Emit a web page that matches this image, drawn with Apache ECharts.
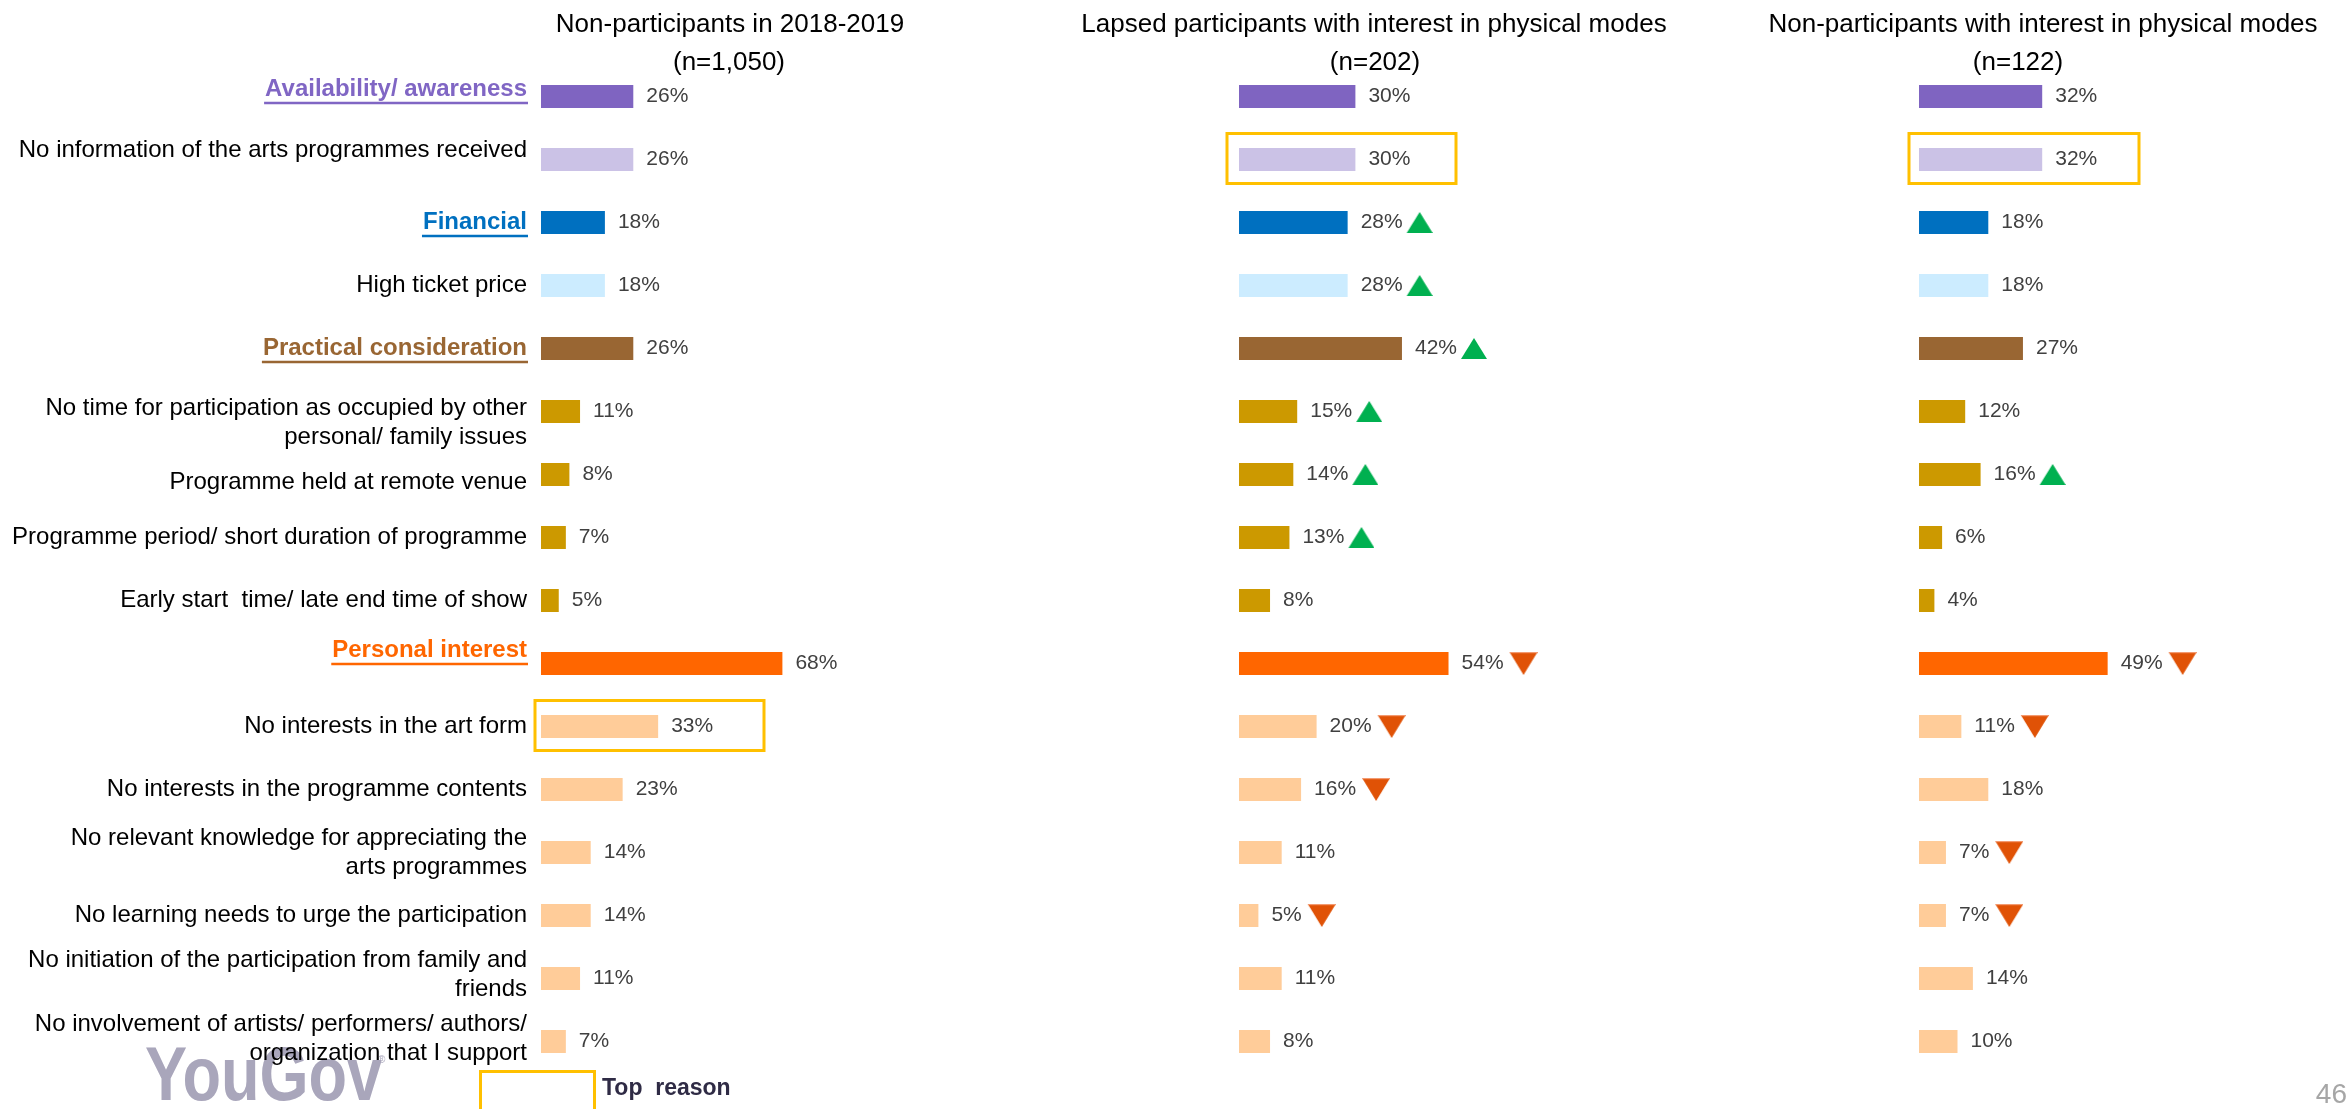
<!DOCTYPE html>
<html>
<head>
<meta charset="utf-8">
<title>Reasons for non-participation</title>
<script src="https://cdn.jsdelivr.net/npm/echarts@6/dist/echarts.min.js"></script>
<style>
  html, body { margin: 0; padding: 0; background: #ffffff; }
  #chart { width: 2349px; height: 1109px; }
</style>
</head>
<body>
<div id="chart"></div>
<script>
// ---- Data ----
const reasons = [
  'Availability/ awareness',
  'No information of the arts programmes received',
  'Financial',
  'High ticket price',
  'Practical consideration',
  'No time for participation as occupied by other\npersonal/ family issues',
  'Programme held at remote venue',
  'Programme period/ short duration of programme',
  'Early start  time/ late end time of show',
  'Personal interest',
  'No interests in the art form',
  'No interests in the programme contents',
  'No relevant knowledge for appreciating the\narts programmes',
  'No learning needs to urge the participation',
  'No initiation of the participation from family and\nfriends',
  'No involvement of artists/ performers/ authors/\norganization that I support'
];
const headerRows = [0, 2, 4, 9];

const panelTitles = [
  'Non-participants in 2018-2019',
  'Lapsed participants with interest in physical modes',
  'Non-participants with interest in physical modes'
];
const panelBases = ['(n=1,050)', '(n=202)', '(n=122)'];

const nonParticipants = [26, 26, 18, 18, 26, 11, 8, 7, 5, 68, 33, 23, 14, 14, 11, 7];
const lapsedInterested = [30, 30, 28, 28, 42, 15, 14, 13, 8, 54, 20, 16, 11, 5, 11, 8];
const nonPartInterested = [32, 32, 18, 18, 27, 12, 16, 6, 4, 49, 11, 18, 7, 7, 14, 10];

// significance vs. non-participants in 2018-2019
const nonParticipantsSig = ['', '', '', '', '', '', '', '', '', '', '', '', '', '', '', ''];
const lapsedSig = ['', '', 'up', 'up', 'up', 'up', 'up', 'up', '', 'down', 'down', 'down', '', 'down', '', ''];
const nonPartInterestedSig = ['', '', '', '', '', '', 'up', '', '', 'down', 'down', '', 'down', 'down', '', ''];

// row flagged as the top reason in each group
const topReasonRow = [10, 1, 1];

// ---- Styling ----
const FONT = '"Liberation Sans", Arial, Helvetica, sans-serif';
const rowColors = [
  '#7F64C1', '#CBC2E6', '#0070C0', '#CCECFF', '#996633',
  '#CC9900', '#CC9900', '#CC9900', '#CC9900', '#FF6600',
  '#FFCC99', '#FFCC99', '#FFCC99', '#FFCC99', '#FFCC99', '#FFCC99'
];
const headerColors = { 0: '#8066C4', 2: '#0070C0', 4: '#996633', 9: '#FF6600' };
// vertical nudge of each reason label relative to its bar (px, + is down)
const labelShift = [-7, -9, 0, 0, 0, 11, 8, 0, 0, -13, 0, 0, 0, 0, -4, -3];

const gridTop = 65, gridHeight = 1008;
const panels = [
  { left: 541, width: 355, values: nonParticipants, sig: nonParticipantsSig, boxDx: -6, boxW: 229, titleX: 730, baseX: 729 },
  { left: 1239, width: 388, values: lapsedInterested, sig: lapsedSig, boxDx: -12, boxW: 229, titleX: 1374, baseX: 1375 },
  { left: 1919, width: 385, values: nonPartInterested, sig: nonPartInterestedSig, boxDx: -10, boxW: 230, titleX: 2043, baseX: 2018 }
];

function triangle(dir, color, w, h, gap) {
  const c = document.createElement('canvas');
  c.width = w + gap; c.height = h;
  const g = c.getContext('2d');
  g.fillStyle = color;
  g.beginPath();
  if (dir === 'up') {
    g.moveTo(gap, h); g.lineTo(gap + w / 2, 0); g.lineTo(gap + w, h);
  } else {
    g.moveTo(gap, 0); g.lineTo(gap + w, 0); g.lineTo(gap + w / 2, h);
  }
  g.closePath();
  g.fill();
  if (dir === 'down') {
    g.fillStyle = '#F39A70';
    g.fillRect(gap, 0, w, 1.2);
  }
  return c;
}
const upIcon = triangle('up', '#00B050', 26, 21, 4);
const downIcon = triangle('down', '#E05206', 28, 23, 6);

const measure = document.createElement('canvas').getContext('2d');
measure.font = 'bold 24px ' + FONT;

const chart = echarts.init(document.getElementById('chart'), null, { renderer: 'canvas' });

const grids = [], xAxes = [], yAxes = [], series = [];
panels.forEach((p, i) => {
  grids.push({ left: p.left, top: gridTop, width: p.width, height: gridHeight, containLabel: false });
  xAxes.push({ type: 'value', gridIndex: i, min: 0, max: 100, show: false });
  yAxes.push({
    type: 'category', gridIndex: i, inverse: true, data: reasons,
    axisLine: { show: false }, axisTick: { show: false }, splitLine: { show: false },
    axisLabel: { show: false }
  });
  series.push({
    type: 'bar', xAxisIndex: i, yAxisIndex: i, barWidth: 23,
    data: p.values.map((v, k) => ({ value: v, itemStyle: { color: rowColors[k] } })),
    label: {
      show: true, position: 'right', distance: 13,
      formatter: (prm) => {
        const s = p.sig[prm.dataIndex];
        return '{v|' + prm.value + '%}' + (s ? '{' + s + '|}' : '');
      },
      rich: {
        v: { fontSize: 21, color: '#404040', fontFamily: FONT },
        up: { width: 30, height: 21, backgroundColor: { image: upIcon } },
        down: { width: 34, height: 23, backgroundColor: { image: downIcon } }
      }
    },
    silent: true, animation: false
  });
  // "top reason" frame
  series.push({
    type: 'custom', xAxisIndex: i, yAxisIndex: i, silent: true, animation: false, z: 3, clip: false,
    data: [[0, topReasonRow[i]]],
    encode: { x: 0, y: 1 },
    renderItem: (params, api) => {
      const pt = api.coord([api.value(0), api.value(1)]);
      return {
        type: 'rect',
        shape: { x: pt[0] + p.boxDx, y: pt[1] - 26, width: p.boxW, height: 50 },
        style: { fill: 'none', stroke: '#FFC000', lineWidth: 3 }
      };
    }
  });
});

// reason labels on the left, placed on the category axis of the first panel
series.push({
  type: 'custom', xAxisIndex: 0, yAxisIndex: 0, silent: true, animation: false, z: 4, clip: false,
  data: reasons.map((r, k) => [0, k]),
  encode: { x: 0, y: 1 },
  renderItem: (params, api) => {
    const k = api.value(1);
    const pt = api.coord([0, k]);
    const isHeader = headerRows.indexOf(k) >= 0;
    const x = pt[0] - 14;
    const y = pt[1] + labelShift[k];
    const children = [{
      type: 'text', x: x, y: y,
      style: {
        text: reasons[k], align: 'right', verticalAlign: 'middle', lineHeight: 29,
        font: (isHeader ? 'bold ' : '') + '24px ' + FONT,
        fill: isHeader ? headerColors[k] : '#000000'
      }
    }];
    if (isHeader) {
      const w = measure.measureText(reasons[k]).width;
      children.push({
        type: 'line',
        shape: { x1: x - w - 1, y1: y + 13.5, x2: x + 1, y2: y + 13.5 },
        style: { stroke: headerColors[k], lineWidth: 2.5 }
      });
    }
    return { type: 'group', children: children };
  }
});

// ---- Titles, logo, legend and page number ----
const graphics = [];
panels.forEach((p, i) => {
  graphics.push({
    type: 'text', x: p.titleX, y: 25, silent: true,
    style: { text: panelTitles[i], font: '26px ' + FONT, fill: '#000000', align: 'center', verticalAlign: 'middle' }
  });
  graphics.push({
    type: 'text', x: p.baseX, y: 63, silent: true,
    style: { text: panelBases[i], font: '26px ' + FONT, fill: '#000000', align: 'center', verticalAlign: 'middle' }
  });
});
graphics.push({
  type: 'text', x: 145, y: 1079, silent: true, scaleX: 0.83, originX: 0, originY: 0,
  style: { text: 'YouGov', font: 'bold 76px ' + FONT, fill: '#A9A6BB', align: 'left', verticalAlign: 'middle' }
});
graphics.push({
  type: 'text', x: 378, y: 1060, silent: true,
  style: { text: '®', font: '10px ' + FONT, fill: '#A9A6BB', align: 'left', verticalAlign: 'middle' }
});
graphics.push({
  type: 'rect', silent: true,
  shape: { x: 480.5, y: 1071.5, width: 114, height: 60 },
  style: { fill: 'none', stroke: '#FFC000', lineWidth: 3 }
});
graphics.push({
  type: 'text', x: 602, y: 1089, silent: true,
  style: { text: 'Top  reason', font: 'bold 23px ' + FONT, fill: '#2F2B45', align: 'left', verticalAlign: 'middle' }
});
graphics.push({
  type: 'text', x: 2347, y: 1095, silent: true,
  style: { text: '46', font: '28px ' + FONT, fill: '#A6A6A6', align: 'right', verticalAlign: 'middle' }
});

chart.setOption({
  backgroundColor: '#ffffff',
  animation: false,
  textStyle: { fontFamily: FONT },
  grid: grids, xAxis: xAxes, yAxis: yAxes, series: series,
  graphic: graphics
});
</script>
</body>
</html>
